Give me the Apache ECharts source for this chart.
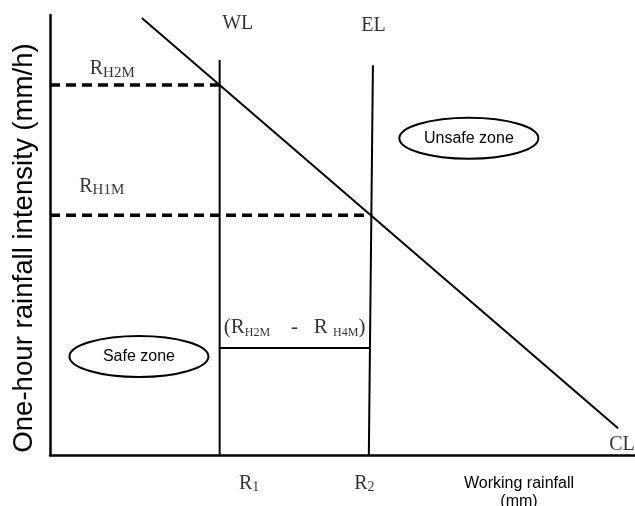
<!DOCTYPE html>
<html>
<head>
<meta charset="utf-8">
<style>
  html, body { margin: 0; padding: 0; background: #fff; }
  #container { width: 635px; height: 506px; }
</style>
<script src="https://cdn.jsdelivr.net/npm/echarts@6/dist/echarts.min.js"></script>
</head>
<body>
<div id="container"></div>
<script>
// working rainfall (x) vs one-hour rainfall intensity (y), arbitrary 0-100 units
var criticalLine = [[15.7, 99.3], [97.1, 6.1]];   // CL
var warningLine = [[29, 0], [29, 89.8]];          // WL at R1
var evacuationLine = [[54.5, 0], [55.2, 88.6]];   // EL at R2
var rh2mLine = [[0, 84.1], [29, 84.1]];
var rh1mLine = [[0, 54.5], [55.1, 54.5]];
var rangeLine = [[29, 24.3], [54.6, 24.3]];

var zoneNames = ['Safe zone', 'Unsafe zone'];
var zoneCenters = [[15.2, 22.4], [71.6, 72.0]];

// text anchors: [x, y, text, align]
var notes = [
  [32.1, 97.9, '{r|WL}', 'center'],
  [55.3, 97.5, '{r|EL}', 'center'],
  [6.8, 87.7, '{r|R}{s|H2M}', 'left'],
  [5.0, 61.0, '{r|R}{s|H1M}', 'left'],
  [29.7, 28.9, '{q|(R}{t|H2M}{q|    -   R }{t|H4M}{q|)}', 'left'],
  [95.6, 2.3, '{r|CL}', 'left'],
  [32.3, -6.5, '{r|R}{u|1}', 'left'],
  [52.0, -6.5, '{r|R}{u|2}', 'left']
];

var dom = document.getElementById('container');
var myChart = echarts.init(dom, null, {
  renderer: 'canvas',
  useDirtyRect: false
});

var option;

function lineSeries(data, dashed) {
  return {
    type: 'line',
    data: data,
    symbol: 'none',
    silent: true,
    lineStyle: {
      color: '#000',
      width: dashed ? 3.5 : 2,
      type: dashed ? [10, 6] : 'solid'
    }
  };
}

var serif = 'Liberation Serif, Times New Roman, serif';
var sans = 'Liberation Sans, Arial, sans-serif';

option = {
  backgroundColor: '#fff',
  animation: false,
  grid: {
    left: 50,
    right: 0,
    top: 15,
    bottom: 51,
    outerBoundsMode: 'none'
  },
  xAxis: {
    type: 'value',
    min: 0,
    max: 100,
    name: 'Working rainfall\n(mm)',
    nameLocation: 'middle',
    nameGap: 20,
    nameTextStyle: {
      fontFamily: sans,
      fontSize: 16,
      lineHeight: 18,
      color: '#000',
      padding: [0, 0, 0, 353]
    },
    axisLine: { lineStyle: { color: '#000', width: 2.5 } },
    axisTick: { show: false },
    axisLabel: { show: false },
    splitLine: { show: false }
  },
  yAxis: {
    type: 'value',
    min: 0,
    max: 100,
    name: 'One-hour rainfall intensity (mm/h)',
    nameLocation: 'middle',
    nameGap: 12,
    nameTextStyle: {
      fontFamily: sans,
      fontSize: 27.6,
      color: '#000',
      padding: [0, 26, 0, 0]
    },
    axisLine: { lineStyle: { color: '#000', width: 2.5 } },
    axisTick: { show: false },
    axisLabel: { show: false },
    splitLine: { show: false }
  },
  series: [
    lineSeries(criticalLine, false),
    lineSeries(warningLine, false),
    lineSeries(evacuationLine, false),
    lineSeries(rh2mLine, true),
    lineSeries(rh1mLine, true),
    lineSeries(rangeLine, false),
    {
      type: 'custom',
      silent: true,
      data: zoneCenters,
      renderItem: function (params, api) {
        var c = api.coord([api.value(0), api.value(1)]);
        return {
          type: 'ellipse',
          shape: { cx: c[0], cy: c[1], rx: 69.5, ry: 20.5 },
          style: { fill: '#fff', stroke: '#000', lineWidth: 2 },
          textContent: {
            style: {
              text: zoneNames[params.dataIndex],
              fontFamily: sans,
              fontSize: 16,
              fill: '#000'
            }
          },
          textConfig: { position: 'inside' }
        };
      }
    },
    {
      type: 'scatter',
      symbolSize: 0,
      silent: true,
      clip: false,
      data: notes.map(function (n) {
        return {
          value: [n[0], n[1]],
          label: { align: n[3] }
        };
      }),
      label: {
        show: true,
        position: 'inside',
        verticalAlign: 'middle',
        color: '#000',
        formatter: function (p) { return notes[p.dataIndex][2]; },
        rich: {
          r: { fontFamily: serif, fontSize: 20, lineHeight: 22, color: '#000' },
          s: { fontFamily: serif, fontSize: 15, lineHeight: 16, verticalAlign: 'bottom', color: '#000' },
          q: { fontFamily: serif, fontSize: 21, lineHeight: 22, color: '#000' },
          t: { fontFamily: serif, fontSize: 12, lineHeight: 14, verticalAlign: 'bottom', color: '#000' },
          u: { fontFamily: serif, fontSize: 14, lineHeight: 15, verticalAlign: 'bottom', color: '#000' }
        }
      }
    }
  ]
};

if (option && typeof option === 'object') {
  myChart.setOption(option);
}

window.addEventListener('resize', myChart.resize);
</script>
</body>
</html>
